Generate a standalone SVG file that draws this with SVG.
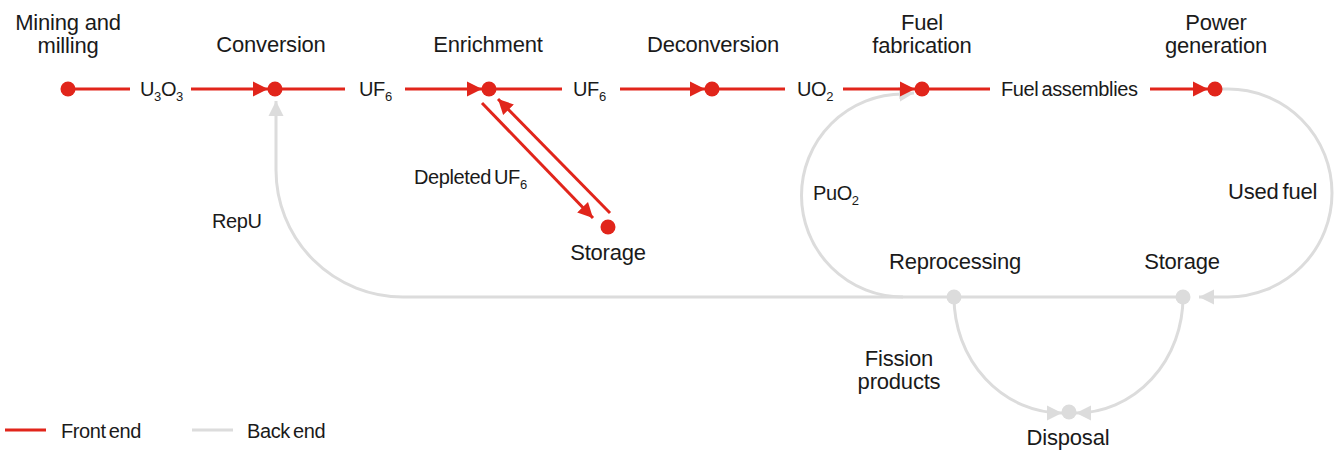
<svg xmlns="http://www.w3.org/2000/svg" width="1337" height="452" viewBox="0 0 1337 452">
<defs>
<style>
text{font-family:"Liberation Sans",Arial,sans-serif;fill:#1a1a1a;font-size:22px;letter-spacing:-0.2px}
.t{text-anchor:middle}
.lbl{font-size:20px;letter-spacing:-0.4px}
.ws{word-spacing:-2px}
.sub{font-size:13px}
.red{stroke:#e1251b;stroke-width:3;fill:none}
.gray{stroke:#dcdcdc;stroke-width:3;fill:none}
.rdot{fill:#e1251b}
.gdot{fill:#dcdcdc}
</style>
<marker id="ar" markerUnits="userSpaceOnUse" markerWidth="16" markerHeight="16" refX="15" refY="8" orient="auto"><path d="M0,0.5 L15,8 L0,15.5 Z" fill="#e1251b"/></marker>
<marker id="ag" markerUnits="userSpaceOnUse" markerWidth="16" markerHeight="16" refX="15" refY="8" orient="auto"><path d="M0,0.5 L15,8 L0,15.5 Z" fill="#dcdcdc"/></marker>
</defs>
<rect width="1337" height="452" fill="#fff"/>
<g id="connectors">
<path class="gray" d="M1183 297 H403 A127 127 0 0 1 276 170 V101" marker-end="url(#ag)"/>
<path class="gray" d="M903 297 A101.5 101.5 0 0 1 903 94 L914 93" marker-end="url(#ag)"/>
<path class="gray" d="M1215 89 H1228 A104 104 0 0 1 1228 297 H1199" marker-end="url(#ag)"/>
<path class="gray" d="M954 297 A108 116 0 0 0 1062 413" marker-end="url(#ag)"/>
<path class="gray" d="M1183 297 A107 116 0 0 1 1076 413" marker-end="url(#ag)"/>
<path class="red" d="M68 89 H130"/>
<path class="red" d="M191 89 H268" marker-end="url(#ar)"/>
<path class="red" d="M275 89 H345"/>
<path class="red" d="M405 89 H482" marker-end="url(#ar)"/>
<path class="red" d="M489 89 H562"/>
<path class="red" d="M620 89 H705" marker-end="url(#ar)"/>
<path class="red" d="M712 89 H785"/>
<path class="red" d="M843 89 H915" marker-end="url(#ar)"/>
<path class="red" d="M922 89 H990"/>
<path class="red" d="M1150 89 H1208" marker-end="url(#ar)"/>
<path class="red" d="M482 103 L593 218" marker-end="url(#ar)"/>
<path class="red" d="M610 213 L498 99" marker-end="url(#ar)"/>
</g>
<g id="mining"><circle class="rdot" cx="68" cy="89" r="7.5"/><text class="t" x="68" y="30">Mining and</text><text class="t" x="68" y="53">milling</text></g>
<g id="conversion"><circle class="rdot" cx="275" cy="89" r="7.5"/><text class="t" x="271" y="52">Conversion</text></g>
<g id="enrichment"><circle class="rdot" cx="489" cy="89" r="7.5"/><text class="t" x="488" y="52">Enrichment</text></g>
<g id="deconversion"><circle class="rdot" cx="712" cy="89" r="7.5"/><text class="t" x="713" y="52">Deconversion</text></g>
<g id="fabrication"><circle class="rdot" cx="922" cy="89" r="7.5"/><text class="t" x="922" y="30">Fuel</text><text class="t" x="922" y="53">fabrication</text></g>
<g id="power"><circle class="rdot" cx="1215" cy="89" r="7.5"/><text class="t" x="1216" y="30">Power</text><text class="t" x="1216" y="53">generation</text></g>
<g id="storage-du"><circle class="rdot" cx="608" cy="227" r="7.5"/><text class="t" x="608" y="260">Storage</text></g>
<g id="reprocessing"><circle class="gdot" cx="954" cy="297" r="7.5"/><text class="t" x="955" y="269">Reprocessing</text></g>
<g id="storage-uf"><circle class="gdot" cx="1183" cy="297" r="7.5"/><text class="t" x="1182" y="269">Storage</text></g>
<g id="disposal"><circle class="gdot" cx="1069" cy="412" r="7.5"/><text class="t" x="1068" y="445">Disposal</text></g>
<g id="labels">
<text class="lbl" x="140" y="96">U<tspan class="sub" dy="5">3</tspan><tspan dy="-5">O</tspan><tspan class="sub" dy="5">3</tspan></text>
<text class="lbl" x="359" y="96">UF<tspan class="sub" dy="5">6</tspan></text>
<text class="lbl" x="573" y="96">UF<tspan class="sub" dy="5">6</tspan></text>
<text class="lbl" x="797" y="96">UO<tspan class="sub" dy="5">2</tspan></text>
<text class="lbl ws" x="1001" y="96">Fuel assemblies</text>
<text class="lbl ws" x="414" y="184">Depleted UF<tspan class="sub" dy="5">6</tspan></text>
<text class="lbl" x="212" y="228">RepU</text>
<text class="lbl" x="813" y="200">PuO<tspan class="sub" dy="5">2</tspan></text>
<text class="ws" x="1228" y="199">Used fuel</text>
<text class="t" x="899" y="366">Fission</text>
<text class="t" x="899" y="389">products</text>
</g>
<g id="legend">
<path class="red" d="M5 430 H46"/>
<text class="lbl ws" x="61" y="438">Front end</text>
<path class="gray" d="M192 430 H233"/>
<text class="lbl ws" x="247" y="438">Back end</text>
</g>
</svg>
